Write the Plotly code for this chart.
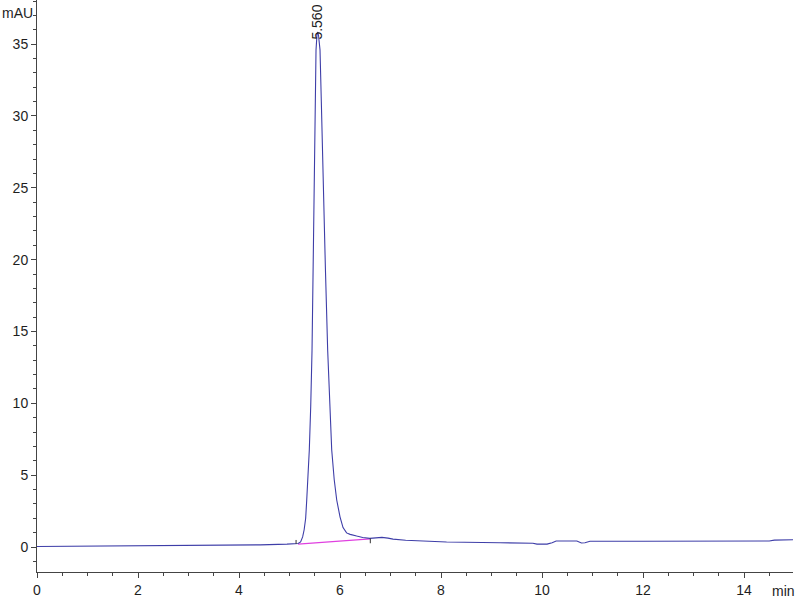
import plotly.graph_objects as go

# Chromatogram signal (time in min, absorbance in mAU)
time_min = [0.0, 0.85, 0.9, 2.5, 2.6, 3.8, 4.42, 4.95, 5.1, 5.17, 5.22, 5.26,
            5.29, 5.32, 5.341, 5.37, 5.392, 5.42, 5.446, 5.47, 5.491, 5.51,
            5.525, 5.545, 5.56, 5.575, 5.604, 5.63, 5.66, 5.71, 5.756, 5.80,
            5.836, 5.885, 5.935, 6.0, 6.06, 6.13, 6.2, 6.33, 6.45, 6.59,
            6.72, 6.83, 6.95, 7.05, 7.3, 7.58, 8.11, 9.17, 9.82, 9.9, 10.0,
            10.1, 10.2, 10.28, 10.69, 10.78, 10.85, 10.95, 12.0, 14.5, 14.6,
            14.97]
signal_mau = [0.03, 0.05, 0.08, 0.10, 0.12, 0.14, 0.15, 0.2, 0.22, 0.24, 0.35, 0.7,
              1.2, 2.0, 3.27, 4.9, 6.75, 9.8, 13.7, 20.0, 26.2, 31.0,
              34.6, 35.7, 35.84, 35.6, 34.6, 31.0, 26.2, 19.5, 13.7, 9.5,
              6.75, 4.7, 3.27, 2.1, 1.35, 0.98, 0.88, 0.76, 0.66, 0.6,
              0.63, 0.67, 0.62, 0.55, 0.47, 0.42, 0.35, 0.3, 0.26, 0.2, 0.18,
              0.2, 0.3, 0.42, 0.42, 0.28, 0.3, 0.4, 0.4, 0.42, 0.48,
              0.5]

# Integration baseline of the peak
baseline_t = [5.17, 6.6]
baseline_y = [0.2, 0.56]

# Integration event marks (time, low, high)
event_t = [5.13, 6.6]
event_lo = [0.21, 0.26]
event_hi = [0.49, 0.6]

peak_rt = 5.560
peak_label = "5.560"

x_ticks = [0, 2, 4, 6, 8, 10, 12, 14]
y_ticks = [0, 5, 10, 15, 20, 25, 30, 35]

font_family = "Liberation Sans Narrow, Arial Narrow, Liberation Sans, Arial, sans-serif"
axis_color = "#444444"
text_color = "#1e1e1e"

fig = go.Figure()

fig.add_trace(go.Scatter(x=baseline_t, y=baseline_y, mode="lines",
                         line=dict(color="#e040e0", width=1.2),
                         hoverinfo="skip", showlegend=False))

fig.add_trace(go.Scatter(x=time_min, y=signal_mau, mode="lines",
                         line=dict(color="#3e3ea8", width=1.1),
                         showlegend=False))

ex, ey = [], []
for t, lo, hi in zip(event_t, event_lo, event_hi):
    ex += [t, t, None]
    ey += [lo, hi, None]
fig.add_trace(go.Scatter(x=ex, y=ey, mode="lines",
                         line=dict(color="#333333", width=1),
                         hoverinfo="skip", showlegend=False))

fig.add_annotation(x=peak_rt - 0.015, y=36.5, text=peak_label, textangle=-90,
                   showarrow=False, xanchor="center", yanchor="middle",
                   font=dict(family=font_family, size=14, color=text_color))

fig.add_annotation(xref="paper", yref="paper", x=-0.003, y=0.994, text="mAU",
                   showarrow=False, xanchor="right", yanchor="top",
                   font=dict(family=font_family, size=14, color=text_color))
fig.add_annotation(xref="paper", yref="paper", x=1.005, y=-0.015, text="min",
                   showarrow=False, xanchor="right", yanchor="top",
                   font=dict(family=font_family, size=14, color=text_color))

fig.update_xaxes(range=[0, 14.97], tickvals=x_ticks, ticktext=[str(v) for v in x_ticks],
                 ticks="outside", ticklen=5, tickcolor=axis_color, tickwidth=1,
                 minor=dict(dtick=0.5, ticks="outside", ticklen=3, tickcolor=axis_color, showgrid=False),
                 showline=True, linecolor=axis_color, linewidth=1, showgrid=False,
                 zeroline=False, automargin=False,
                 tickfont=dict(family=font_family, size=14, color=text_color))
fig.update_yaxes(range=[-1.74, 38.07], tickvals=y_ticks, ticktext=[str(v) for v in y_ticks],
                 ticks="outside", ticklen=5, tickcolor=axis_color, tickwidth=1,
                 minor=dict(dtick=1, ticks="outside", ticklen=3, tickcolor=axis_color, showgrid=False),
                 showline=True, linecolor=axis_color, linewidth=1, showgrid=False,
                 zeroline=False, automargin=False,
                 tickfont=dict(family=font_family, size=14, color=text_color))

fig.update_layout(width=800, height=600, margin=dict(l=37, r=7, t=0, b=28),
                  plot_bgcolor="white", paper_bgcolor="white")

fig.write_html("out.html", config={"displayModeBar": False},
               post_script="document.body.style.margin='0px';document.body.style.padding='0px';")
